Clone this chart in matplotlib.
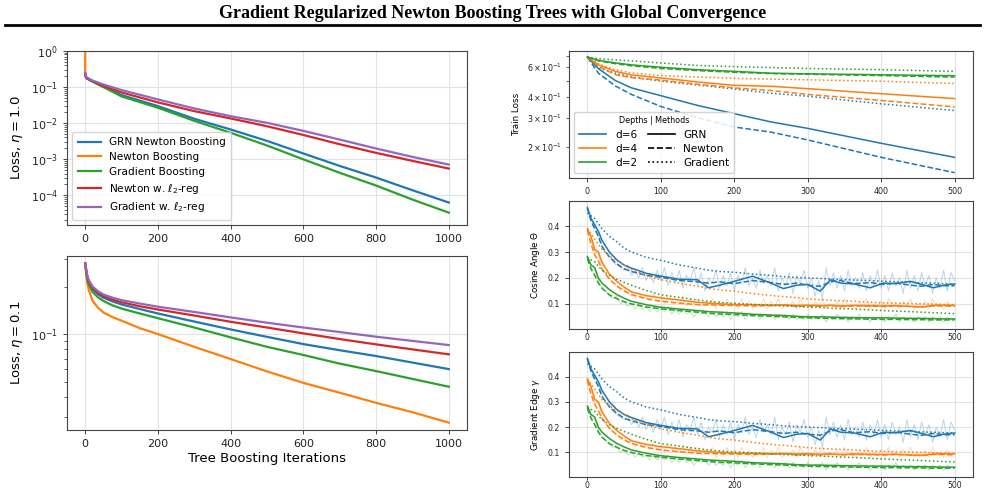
import matplotlib
matplotlib.use("Agg")
import matplotlib.pyplot as plt
from matplotlib.lines import Line2D
import numpy as np

# ---------------- data: left top (eta = 1.0) ----------------
it_top = [0, 2, 5, 10, 20, 50, 100, 200, 300, 400, 500, 600, 700, 800, 900, 1000]
grn_top = [0.24, 0.19, 0.175, 0.165, 0.145, 0.103, 0.060, 0.0297, 0.0132, 0.00667,
           0.00322, 0.00144, 6.5e-4, 3.1e-4, 1.38e-4, 6.3e-5]
gb_top = [0.24, 0.19, 0.175, 0.162, 0.142, 0.100, 0.055, 0.0267, 0.0116, 0.0054,
          0.0024, 0.00099, 4.2e-4, 1.86e-4, 7.6e-5, 3.3e-5]
newl2_top = [0.22, 0.185, 0.172, 0.163, 0.145, 0.107, 0.071, 0.0376, 0.0215, 0.0135,
             0.0082, 0.0047, 0.0026, 0.0015, 9e-4, 5.5e-4]
gradl2_top = [0.25, 0.2, 0.185, 0.172, 0.152, 0.118, 0.0826, 0.0454, 0.0255, 0.0156,
              0.0102, 0.0061, 0.0035, 0.00198, 0.00116, 7.1e-4]
it_newton_top = [0, 1]
newton_top = [0.22, 1e4]

# ---------------- data: left bottom (eta = 0.1) ----------------
it_bot = [0, 5, 10, 20, 35, 50, 75, 100, 150, 200, 300, 400, 500, 600, 700, 800, 900, 1000]
grn_bot = [0.28, 0.232, 0.212, 0.192, 0.179, 0.170, 0.161, 0.154, 0.144, 0.135, 0.120,
           0.107, 0.096, 0.0864, 0.079, 0.0726, 0.066, 0.060]
newton_bot = [0.28, 0.215, 0.19, 0.163, 0.147, 0.137, 0.128, 0.1215, 0.109, 0.100, 0.083,
              0.0695, 0.058, 0.0491, 0.0425, 0.0367, 0.032, 0.0275]
gb_bot = [0.28, 0.228, 0.206, 0.185, 0.171, 0.162, 0.152, 0.145, 0.135, 0.126, 0.110,
          0.0953, 0.083, 0.0737, 0.065, 0.0583, 0.052, 0.0464]
newl2_bot = [0.28, 0.235, 0.215, 0.196, 0.183, 0.174, 0.165, 0.159, 0.150, 0.143, 0.131,
             0.1196, 0.110, 0.101, 0.093, 0.086, 0.080, 0.0744]
gradl2_bot = [0.28, 0.24, 0.22, 0.2, 0.187, 0.178, 0.17, 0.164, 0.156, 0.149, 0.138,
              0.1275, 0.118, 0.110, 0.103, 0.0962, 0.0905, 0.0852]

# ---------------- data: right top (train loss) ----------------
rt_it = [0, 15, 38, 60, 100, 150, 200, 250, 300, 400, 500]
d6_grn = [0.69, 0.589, 0.50, 0.452, 0.406, 0.355, 0.317, 0.283, 0.259, 0.211, 0.174]
d6_newton = [0.69, 0.553, 0.464, 0.413, 0.35, 0.30, 0.264, 0.246, 0.221, 0.174, 0.141]
d6_grad = [0.69, 0.594, 0.553, 0.525, 0.496, 0.47, 0.445, 0.42, 0.403, 0.363, 0.331]
d4_grn = [0.69, 0.62, 0.567, 0.54, 0.518, 0.49, 0.468, 0.462, 0.447, 0.417, 0.39]
d4_newton = [0.69, 0.61, 0.541, 0.52, 0.503, 0.475, 0.452, 0.436, 0.413, 0.38, 0.348]
d4_grad = [0.69, 0.63, 0.58, 0.555, 0.535, 0.525, 0.515, 0.51, 0.505, 0.495, 0.48]
d2_grn = [0.69, 0.66, 0.637, 0.62, 0.60, 0.58, 0.567, 0.553, 0.548, 0.541, 0.534]
d2_newton = [0.69, 0.655, 0.63, 0.612, 0.59, 0.573, 0.56, 0.55, 0.545, 0.535, 0.524]
d2_grad = [0.69, 0.675, 0.664, 0.655, 0.636, 0.615, 0.605, 0.597, 0.59, 0.58, 0.567]

# ---------------- data: right middle / bottom (cosine angle, gradient edge) ----------------
cos_it = [0, 5, 10, 15, 20, 30, 40, 50, 60, 80, 100, 125, 150, 165, 180, 200, 225, 250,
          267, 285, 300, 317, 331, 345, 363, 385, 403, 420, 440, 455, 471, 485, 500]
cos_d6_grn = [0.472, 0.43, 0.405, 0.38, 0.345, 0.30, 0.27, 0.25, 0.238, 0.218, 0.207, 0.195,
              0.193, 0.162, 0.172, 0.187, 0.207, 0.18, 0.159, 0.172, 0.175, 0.149, 0.193,
              0.18, 0.177, 0.162, 0.18, 0.178, 0.187, 0.175, 0.162, 0.172, 0.177]
cos_d6_newton = [0.47, 0.42, 0.39, 0.36, 0.32, 0.28, 0.255, 0.235, 0.225, 0.21, 0.203, 0.19,
                 0.185, 0.18, 0.185, 0.178, 0.19, 0.182, 0.175, 0.18, 0.172, 0.168, 0.185,
                 0.19, 0.178, 0.182, 0.175, 0.18, 0.172, 0.168, 0.175, 0.17, 0.17]
cos_d6_grad = [0.45, 0.44, 0.43, 0.41, 0.39, 0.36, 0.34, 0.315, 0.30, 0.28, 0.268, 0.25,
               0.238, 0.23, 0.225, 0.222, 0.215, 0.21, 0.205, 0.202, 0.2, 0.198, 0.196,
               0.194, 0.192, 0.19, 0.187, 0.185, 0.183, 0.181, 0.18, 0.178, 0.177]
cos_d4_grn = [0.39, 0.36, 0.31, 0.30, 0.26, 0.215, 0.187, 0.165, 0.146, 0.132, 0.123, 0.115,
              0.106, 0.103, 0.1, 0.097, 0.097, 0.095, 0.096, 0.094, 0.095, 0.093, 0.094,
              0.092, 0.094, 0.093, 0.092, 0.093, 0.09, 0.088, 0.094, 0.095, 0.094]
cos_d4_newton = [0.385, 0.33, 0.29, 0.264, 0.235, 0.195, 0.17, 0.15, 0.136, 0.12, 0.11, 0.103,
                 0.097, 0.096, 0.095, 0.094, 0.092, 0.093, 0.095, 0.09, 0.092, 0.09, 0.095,
                 0.09, 0.092, 0.091, 0.09, 0.092, 0.09, 0.088, 0.092, 0.092, 0.09]
cos_d4_grad = [0.39, 0.37, 0.35, 0.33, 0.31, 0.285, 0.265, 0.25, 0.232, 0.21, 0.193, 0.18,
               0.168, 0.16, 0.154, 0.149, 0.14, 0.132, 0.128, 0.124, 0.119, 0.116, 0.114,
               0.112, 0.11, 0.106, 0.104, 0.103, 0.101, 0.1, 0.099, 0.098, 0.097]
cos_d2_grn = [0.283, 0.25, 0.24, 0.2, 0.18, 0.155, 0.136, 0.122, 0.11, 0.097, 0.087, 0.08,
              0.074, 0.07, 0.068, 0.065, 0.06, 0.057, 0.055, 0.052, 0.05, 0.05, 0.049,
              0.048, 0.047, 0.046, 0.046, 0.045, 0.044, 0.044, 0.043, 0.042, 0.042]
cos_d2_newton = [0.275, 0.235, 0.21, 0.18, 0.16, 0.135, 0.12, 0.108, 0.1, 0.088, 0.081, 0.074,
                 0.068, 0.064, 0.061, 0.059, 0.055, 0.052, 0.05, 0.048, 0.046, 0.045, 0.044,
                 0.043, 0.042, 0.041, 0.040, 0.040, 0.039, 0.039, 0.038, 0.038, 0.038]
cos_d2_grad = [0.28, 0.27, 0.263, 0.245, 0.23, 0.21, 0.195, 0.183, 0.172, 0.152, 0.135, 0.125,
               0.115, 0.11, 0.106, 0.102, 0.098, 0.095, 0.092, 0.09, 0.088, 0.086, 0.084,
               0.082, 0.08, 0.077, 0.074, 0.072, 0.07, 0.068, 0.066, 0.064, 0.062]

raw_it = list(range(0, 501, 5))
raw_d6 = [0.47, 0.43, 0.40, 0.37, 0.33, 0.30, 0.29, 0.26, 0.25, 0.24,
          0.23, 0.25, 0.21, 0.23, 0.20, 0.24, 0.19, 0.22, 0.18, 0.23,
          0.19, 0.24, 0.17, 0.22, 0.18, 0.23, 0.16, 0.21, 0.19, 0.24,
          0.17, 0.22, 0.15, 0.20, 0.18, 0.23, 0.16, 0.21, 0.17, 0.22,
          0.15, 0.21, 0.18, 0.24, 0.17, 0.20, 0.16, 0.23, 0.18, 0.21,
          0.17, 0.24, 0.15, 0.20, 0.17, 0.22, 0.14, 0.21, 0.18, 0.23,
          0.16, 0.20, 0.13, 0.19, 0.12, 0.24, 0.17, 0.22, 0.16, 0.21,
          0.15, 0.23, 0.17, 0.20, 0.16, 0.22, 0.15, 0.21, 0.17, 0.23,
          0.16, 0.21, 0.15, 0.22, 0.17, 0.20, 0.14, 0.23, 0.16, 0.21,
          0.15, 0.22, 0.17, 0.21, 0.14, 0.20, 0.16, 0.23, 0.15, 0.22,
          0.19]
raw_d4 = [0.39, 0.35, 0.30, 0.29, 0.24, 0.21, 0.20, 0.18, 0.17, 0.15,
          0.16, 0.14, 0.15, 0.12, 0.14, 0.12, 0.13, 0.11, 0.14, 0.11,
          0.13, 0.10, 0.13, 0.11, 0.12, 0.10, 0.13, 0.09, 0.12, 0.10,
          0.12, 0.09, 0.11, 0.10, 0.12, 0.08, 0.11, 0.09, 0.12, 0.09,
          0.11, 0.08, 0.12, 0.09, 0.11, 0.08, 0.10, 0.09, 0.12, 0.08,
          0.11, 0.09, 0.12, 0.08, 0.10, 0.09, 0.11, 0.08, 0.12, 0.09,
          0.10, 0.08, 0.11, 0.09, 0.12, 0.08, 0.10, 0.09, 0.11, 0.08,
          0.12, 0.09, 0.10, 0.08, 0.11, 0.09, 0.12, 0.08, 0.10, 0.09,
          0.11, 0.08, 0.12, 0.09, 0.10, 0.08, 0.11, 0.09, 0.12, 0.08,
          0.10, 0.09, 0.11, 0.08, 0.12, 0.09, 0.10, 0.08, 0.11, 0.09,
          0.10]
raw_d2 = [0.28, 0.24, 0.23, 0.19, 0.16, 0.15, 0.13, 0.12, 0.13, 0.10,
          0.11, 0.09, 0.10, 0.08, 0.10, 0.08, 0.09, 0.07, 0.09, 0.07,
          0.08, 0.07, 0.09, 0.06, 0.08, 0.06, 0.08, 0.06, 0.07, 0.05,
          0.07, 0.06, 0.07, 0.05, 0.07, 0.05, 0.06, 0.05, 0.07, 0.04,
          0.06, 0.05, 0.07, 0.04, 0.06, 0.05, 0.06, 0.04, 0.06, 0.05,
          0.06, 0.04, 0.06, 0.05, 0.06, 0.04, 0.06, 0.04, 0.05, 0.04,
          0.06, 0.04, 0.05, 0.04, 0.06, 0.03, 0.05, 0.04, 0.06, 0.04,
          0.05, 0.03, 0.05, 0.04, 0.06, 0.04, 0.05, 0.03, 0.05, 0.04,
          0.05, 0.03, 0.05, 0.04, 0.06, 0.03, 0.05, 0.04, 0.05, 0.03,
          0.05, 0.04, 0.05, 0.03, 0.05, 0.04, 0.05, 0.03, 0.05, 0.04,
          0.04]

C_BLUE, C_ORANGE, C_GREEN, C_RED, C_PURPLE = "#1f77b4", "#ff7f0e", "#2ca02c", "#d62728", "#9467bd"

W, H = 985, 490
fig = plt.figure(figsize=(W / 100, H / 100), dpi=100)


def ax_px(left, top, right, bottom):
    return fig.add_axes([left / W, 1 - bottom / H, (right - left) / W, (bottom - top) / H])


# title + rule
fig.text(0.5, 1 - 13 / H, "Gradient Regularized Newton Boosting Trees with Global Convergence",
         ha="center", va="center", family="Liberation Serif", weight="bold", fontsize=13)
fig.add_artist(Line2D([5 / W, 980 / W], [1 - 25 / H] * 2, color="black", lw=2))

SPINE = "#444444"


def style(ax, fs):
    for s in ax.spines.values():
        s.set_color(SPINE)
    ax.grid(True, which="major", color="#dddddd", lw=0.8, alpha=0.8)
    ax.tick_params(which="both", labelsize=fs, colors="#222222")
    ax.tick_params(which="major", width=0.6, length=3)
    ax.tick_params(which="minor", width=0.5, length=2)
    ax.set_axisbelow(True)


# ---------- left top ----------
ax1 = ax_px(67, 51, 467, 225)
lw = 1.6
ax1.plot(it_top, grn_top, color=C_BLUE, lw=lw, label="GRN Newton Boosting")
ax1.plot(it_newton_top, newton_top, color=C_ORANGE, lw=lw, label="Newton Boosting")
ax1.plot(it_top, gb_top, color=C_GREEN, lw=lw, label="Gradient Boosting")
ax1.plot(it_top, newl2_top, color=C_RED, lw=lw, label=r"Newton w. $\ell_2$-reg")
ax1.plot(it_top, gradl2_top, color=C_PURPLE, lw=lw, label=r"Gradient w. $\ell_2$-reg")
ax1.set_yscale("log")
ax1.set_ylim(1.5e-5, 1)
ax1.set_xlim(-50, 1050)
ax1.set_xticks([0, 200, 400, 600, 800, 1000])
ax1.set_ylabel(r"Loss, $\eta = 1.0$", fontsize=9.5)
style(ax1, 8)
ax1.legend(loc="lower left", fontsize=7.6, handlelength=2.2, borderpad=0.5, labelspacing=0.45,
           framealpha=0.8, edgecolor="#cccccc")

# ---------- left bottom ----------
ax2 = ax_px(67, 256, 467, 430)
ax2.plot(it_bot, grn_bot, color=C_BLUE, lw=lw)
ax2.plot(it_bot, newton_bot, color=C_ORANGE, lw=lw)
ax2.plot(it_bot, gb_bot, color=C_GREEN, lw=lw)
ax2.plot(it_bot, newl2_bot, color=C_RED, lw=lw)
ax2.plot(it_bot, gradl2_bot, color=C_PURPLE, lw=lw)
ax2.set_yscale("log")
ax2.set_ylim(0.0247, 0.312)
ax2.set_xlim(-50, 1050)
ax2.set_xticks([0, 200, 400, 600, 800, 1000])
ax2.yaxis.set_minor_formatter(matplotlib.ticker.NullFormatter())
ax2.set_ylabel(r"Loss, $\eta = 0.1$", fontsize=9.5)
ax2.set_xlabel("Tree Boosting Iterations", fontsize=9.5, labelpad=2)
style(ax2, 8)

# ---------- right top ----------
ax3 = ax_px(569, 51, 973, 178)
rlw = 1.1
series_rt = [
    (d6_grn, C_BLUE, "-"), (d6_newton, C_BLUE, "--"), (d6_grad, C_BLUE, ":"),
    (d4_grn, C_ORANGE, "-"), (d4_newton, C_ORANGE, "--"), (d4_grad, C_ORANGE, ":"),
    (d2_grn, C_GREEN, "-"), (d2_newton, C_GREEN, "--"), (d2_grad, C_GREEN, ":"),
]
for vals, c, ls in series_rt:
    ax3.plot(rt_it, vals, color=c, ls=ls, lw=rlw)
ax3.set_yscale("log")
ax3.set_ylim(0.131, 0.75)
ax3.set_xlim(-25, 525)
ax3.set_xticks([0, 100, 200, 300, 400, 500])
ax3.set_ylabel("Train Loss", fontsize=6.3)
style(ax3, 5.8)
handles = [Line2D([], [], color=C_BLUE, lw=1.2), Line2D([], [], color=C_ORANGE, lw=1.2),
           Line2D([], [], color=C_GREEN, lw=1.2),
           Line2D([], [], color="black", lw=1.2, ls="-"), Line2D([], [], color="black", lw=1.2, ls="--"),
           Line2D([], [], color="black", lw=1.2, ls=":")]
labels = ["d=6", "d=4", "d=2", "GRN", "Newton", "Gradient"]
leg = ax3.legend(handles, labels, ncol=2, loc="lower left", fontsize=7.6, title="Depths | Methods",
                 title_fontsize=5.8, handlelength=2.6, columnspacing=1.0, labelspacing=0.4,
                 borderpad=0.45, framealpha=0.85, edgecolor="#cccccc")

# ---------- right middle & bottom ----------
cos_series = [
    (cos_d6_grn, C_BLUE, "-"), (cos_d6_newton, C_BLUE, "--"), (cos_d6_grad, C_BLUE, ":"),
    (cos_d4_grn, C_ORANGE, "-"), (cos_d4_newton, C_ORANGE, "--"), (cos_d4_grad, C_ORANGE, ":"),
    (cos_d2_grn, C_GREEN, "-"), (cos_d2_newton, C_GREEN, "--"), (cos_d2_grad, C_GREEN, ":"),
]
raw_series = [(raw_d6, C_BLUE), (raw_d4, C_ORANGE), (raw_d2, C_GREEN)]

for (top, bottom, ylabel) in [(201, 329, r"Cosine Angle $\Theta$"), (352, 477, r"Gradient Edge $\gamma$")]:
    ax = ax_px(569, top, 973, bottom)
    for vals, c in raw_series:
        ax.plot(raw_it, vals, color=c, lw=0.7, alpha=0.3)
    for vals, c, ls in cos_series:
        ax.plot(cos_it, vals, color=c, ls=ls, lw=rlw)
    ax.set_ylim(0.003, 0.497)
    ax.set_xlim(-25, 525)
    ax.set_xticks([0, 100, 200, 300, 400, 500])
    ax.set_yticks([0.1, 0.2, 0.3, 0.4])
    ax.set_ylabel(ylabel, fontsize=6.3)
    style(ax, 5.6)
    ax.tick_params(axis="x", pad=1.0, length=2.0)

fig.savefig("out.png", dpi=100)
